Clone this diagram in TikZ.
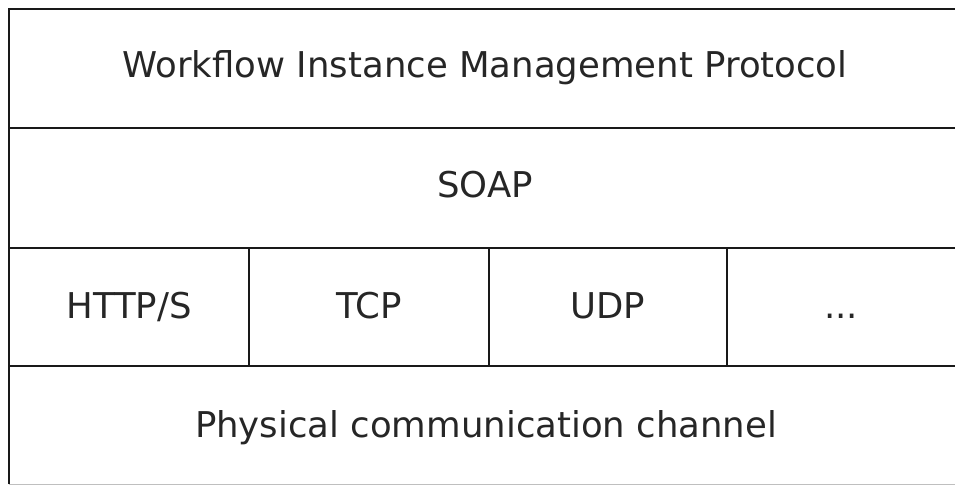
\documentclass[tikz,border=0pt]{standalone}
\usepackage{fontspec}
\setsansfont{DejaVu Sans}
\usetikzlibrary{positioning}
\tikzset{
    frameline/.style={black!90,line width=2.2pt},
    bottomline/.style={black!25,line width=1pt},
    layer/.style={anchor=base,inner sep=0pt,text=black!85,font=\sffamily\fontsize{35.5}{42}\selectfont}
}

\begin{document}
\begin{tikzpicture}[x=1pt,y=-1pt]
\useasboundingbox(0,0)rectangle(955,485);
% frame and row dividers
\draw[frameline](9,484)--(9,9)--(956,9);
\draw[frameline](9,128)--(956,128);
\draw[frameline](9,248)--(956,248);
\draw[frameline](9,366)--(956,366);
\draw[bottomline](9,484)--(956,484);
% column dividers
\foreach \x in {249,489,727}
    \draw[frameline](\x,248)--(\x,366);
% labels
\node[layer](wimp)at(485,77){Workflow Instance Management Protocol};
\node[layer](soap)at(485,197){SOAP};
\node[layer](http)at(129,318){HTTP/S};
\node[layer](tcp)at(369,318){TCP};
\node[layer](udp)at(608,318){UDP};
\node[layer](more)at(841,318){...};
\node[layer](phys)at(486,437){Physical communication channel};
\end{tikzpicture}
\end{document}
